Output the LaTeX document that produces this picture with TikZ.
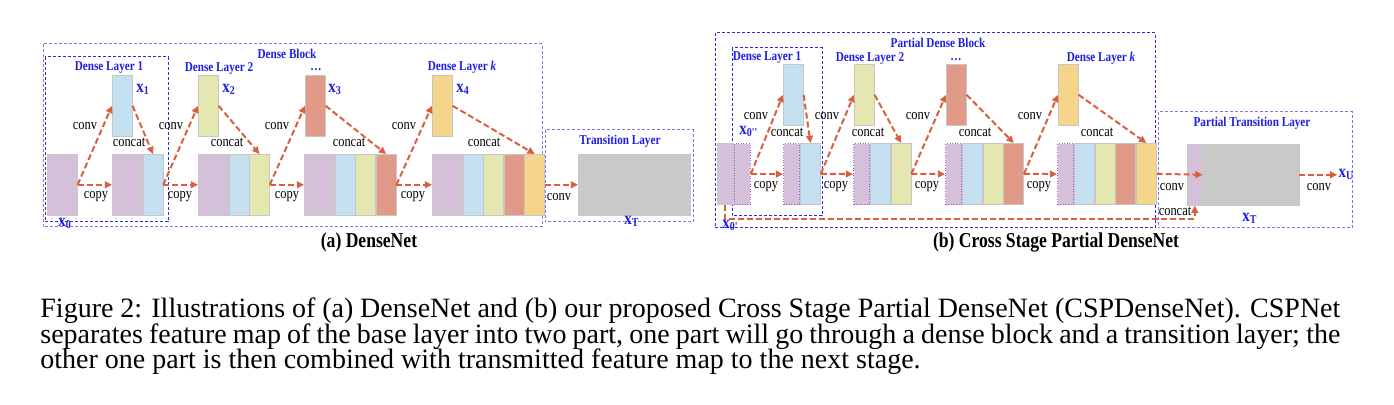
\documentclass[tikz,border=0pt]{standalone}
\usepackage{fontspec}
\setmainfont{Liberation Serif}
\newfontfamily\diagfont{Liberation Serif}[FakeStretch=0.83]
\usetikzlibrary{arrows.meta,positioning,calc}

\definecolor{cpurple}{HTML}{D4C0D8}
\definecolor{cblue}{HTML}{C4DFF0}
\definecolor{cgreen}{HTML}{E4E7B0}
\definecolor{cred}{HTML}{E29A88}
\definecolor{cyellow}{HTML}{F5D58A}
\definecolor{cgray}{HTML}{C9C9C9}
\definecolor{carrow}{HTML}{D9603F}
\definecolor{clabel}{HTML}{1E1EE6}
\definecolor{cboxd}{HTML}{2A2AE0}
\definecolor{cboxl}{HTML}{7A7AE0}
\definecolor{cdot}{HTML}{9A5CC8}

\tikzset{
  cell/.style={draw=black!22, line width=0.3pt, inner sep=0pt, anchor=north west,
    minimum height=30.5pt, minimum width=10pt},
  wide/.style={minimum width=15pt},
  half/.style={minimum width=8pt},
  part/.style={draw=cdot, densely dotted, line width=0.6pt},
  flow/.style={draw=carrow, line width=1pt, dash pattern=on 3pt off 1.5pt,
    -{Triangle[length=3.6pt,width=3.4pt]}},
  grp/.style={line width=0.5pt, dash pattern=on 1.5pt off 1pt},
  lbl/.style={font=\diagfont\fontsize{7.5}{8}\selectfont, inner sep=0pt},
  ttl/.style={font=\diagfont\bfseries\fontsize{6.75}{7.5}\selectfont, text=clabel, inner sep=0pt},
  dots/.style={ttl, text height=1.5pt, text depth=0pt},
  xlbl/.style={font=\diagfont\bfseries\fontsize{9}{10}\selectfont, text=clabel, inner sep=0pt, anchor=west},
  sub/.style={font=\diagfont\bfseries\fontsize{10.6}{12}\selectfont, inner sep=0pt},
  captxt/.style={font=\fontsize{14}{15}\selectfont, inner sep=0pt, anchor=base west},
}

\begin{document}
\begin{tikzpicture}[x=0.5pt,y=-0.5pt]
  \useasboundingbox (0,0) rectangle (1394,405);

  % ---------------- (a) DenseNet ----------------
  % groups
  \draw[grp, draw=cboxl] (43,44) rectangle (542,227);
  \draw[grp, draw=cboxd] (45,57) rectangle (168,222);
  \draw[grp, draw=cboxl] (545,130) rectangle (693,222);

  % base feature map
  \node[cell, wide, fill=cpurple] (a0) at (47,154) {};

  % layer 1
  \node[cell, fill=cblue] (ax1) at (112,75) {};
  \node[cell, wide, fill=cpurple] (a1p) at (112,154) {};
  \node[cell, fill=cblue] (a1b) at (a1p.north east) {};

  % layer 2
  \node[cell, fill=cgreen] (ax2) at (198,75) {};
  \node[cell, wide, fill=cpurple] (a2p) at (198,154) {};
  \node[cell, fill=cblue] (a2b) at (a2p.north east) {};
  \node[cell, fill=cgreen] (a2g) at (a2b.north east) {};

  % layer 3
  \node[cell, fill=cred] (ax3) at (305,75) {};
  \node[cell, wide, fill=cpurple] (a3p) at (304,154) {};
  \node[cell, fill=cblue] (a3b) at (a3p.north east) {};
  \node[cell, fill=cgreen] (a3g) at (a3b.north east) {};
  \node[cell, fill=cred] (a3r) at (a3g.north east) {};

  % layer k
  \node[cell, fill=cyellow] (ax4) at (432,75) {};
  \node[cell, wide, fill=cpurple] (a4p) at (432,154) {};
  \node[cell, fill=cblue] (a4b) at (a4p.north east) {};
  \node[cell, fill=cgreen] (a4g) at (a4b.north east) {};
  \node[cell, fill=cred] (a4r) at (a4g.north east) {};
  \node[cell, fill=cyellow] (a4y) at (a4r.north east) {};

  % transition
  \node[cell, fill=cgray, minimum width=56pt] (aT) at (578,154) {};

  % connectors
  \draw[flow] (a0.east) -- (a1p.west);
  \draw[flow] (a0.east) -- (ax1.west);
  \draw[flow] (ax1.east) -- (a1b.north);
  \draw[flow] (a1b.east) -- (a2p.west);
  \draw[flow] (a1b.east) -- (ax2.west);
  \draw[flow] (ax2.east) -- (a2g.north);
  \draw[flow] (a2g.east) -- (a3p.west);
  \draw[flow] (a2g.east) -- (ax3.west);
  \draw[flow] (ax3.east) -- (a3r.north);
  \draw[flow] (a3r.east) -- (a4p.west);
  \draw[flow] (a3r.east) -- (ax4.west);
  \draw[flow] (ax4.east) -- (a4y.north);
  \draw[flow] (a4y.east) -- (aT.west);

  % texts
  \node[ttl] at (287,54) {Dense Block};
  \node[ttl] at (109,68) {Dense Layer 1};
  \node[ttl] at (219,68) {Dense Layer 2};
  \node[dots] at (316,69) {\dots};
  \node[ttl] at (462,67) {Dense Layer \textit{k}};
  \node[ttl] at (620,141) {Transition Layer};

  \node[xlbl] at (136,89) {x\textsubscript{1}};
  \node[xlbl] at (222,89) {x\textsubscript{2}};
  \node[xlbl] at (328,89) {x\textsubscript{3}};
  \node[xlbl] at (456,89) {x\textsubscript{4}};
  \node[xlbl] at (58,223) {x\textsubscript{0}};
  \node[xlbl] at (624,221) {x\textsubscript{T}};

  \foreach \cx/\cv/\cc/\cp in {85/126/129/96, 171/126/227/180, 277/126/349/287, 404/126/484/413}{
    \node[lbl] at (\cx,\cv) {conv};
    \node[lbl] at (\cc,142) {concat};
    \node[lbl] at (\cp,197) {copy};
  }
  \node[lbl] at (559,197) {conv};

  \node[sub] at (369,242) {(a) DenseNet};

  % ---------------- (b) CSPDenseNet ----------------
  % groups
  \draw[grp, draw=cboxd] (715,33) rectangle (1155,228);
  \draw[grp, draw=cboxd] (732,48) rectangle (822,216);
  \draw[grp, draw=cboxl] (1158,112) rectangle (1352,228);

  % base feature map, split in two parts
  \node[cell, half, fill=cpurple] (b0a) at (717,143) {};
  \node[cell, half, fill=cpurple, part] (b0b) at (b0a.north east) {};

  % layer 1
  \node[cell, fill=cblue] (bx1) at (783,64) {};
  \node[cell, half, fill=cpurple, part] (b1p) at (783,143) {};
  \node[cell, fill=cblue] (b1b) at (b1p.north east) {};

  % layer 2
  \node[cell, fill=cgreen] (bx2) at (854,64) {};
  \node[cell, half, fill=cpurple, part] (b2p) at (853,143) {};
  \node[cell, fill=cblue] (b2b) at (b2p.north east) {};
  \node[cell, fill=cgreen] (b2g) at (b2b.north east) {};

  % layer 3
  \node[cell, fill=cred] (bx3) at (946,64) {};
  \node[cell, half, fill=cpurple, part] (b3p) at (945,143) {};
  \node[cell, fill=cblue] (b3b) at (b3p.north east) {};
  \node[cell, fill=cgreen] (b3g) at (b3b.north east) {};
  \node[cell, fill=cred] (b3r) at (b3g.north east) {};

  % layer k
  \node[cell, fill=cyellow] (bx4) at (1058,64) {};
  \node[cell, half, fill=cpurple, part] (b4p) at (1057,143) {};
  \node[cell, fill=cblue] (b4b) at (b4p.north east) {};
  \node[cell, fill=cgreen] (b4g) at (b4b.north east) {};
  \node[cell, fill=cred] (b4r) at (b4g.north east) {};
  \node[cell, fill=cyellow] (b4y) at (b4r.north east) {};

  % partial transition
  \node[cell, fill=cpurple, minimum width=7.5pt] (bTp) at (1187,144) {};
  \node[cell, fill=cgray, minimum width=48pt] (bTg) at (bTp.north east) {};
  \coordinate (bU) at ($(bTg.east)+(38,0)$);

  % connectors
  \draw[flow] (b0b.east) -- (b1p.west);
  \draw[flow] (b0b.east) -- (bx1.west);
  \draw[flow] (bx1.east) -- (b1b.north);
  \draw[flow] (b1b.east) -- (b2p.west);
  \draw[flow] (b1b.east) -- (bx2.west);
  \draw[flow] (bx2.east) -- (b2g.north);
  \draw[flow] (b2g.east) -- (b3p.west);
  \draw[flow] (b2g.east) -- (bx3.west);
  \draw[flow] (bx3.east) -- (b3r.north);
  \draw[flow] (b3r.east) -- (b4p.west);
  \draw[flow] (b3r.east) -- (bx4.west);
  \draw[flow] (bx4.east) -- (b4y.north);
  \draw[flow] (b4y.east) -- (bTg.west);
  \draw[flow] (bTg.east) -- (bU);
  \draw[flow] (b0a.south) -- ++(0,14) -| (bTp.south);

  % texts
  \node[ttl] at (938,43) {Partial Dense Block};
  \node[ttl] at (767,58) {Dense Layer 1};
  \node[ttl] at (870,58) {Dense Layer 2};
  \node[dots] at (956,59) {\dots};
  \node[ttl] at (1101,58) {Dense Layer \textit{k}};
  \node[ttl] at (1252,123) {Partial Transition Layer};

  \node[xlbl] at (739,131) {x\textsubscript{0''}};
  \node[xlbl] at (722,225) {x\textsubscript{0'}};
  \node[xlbl] at (1242,218) {x\textsubscript{T}};
  \node[xlbl, right=0.5pt of bU] {x\textsubscript{U}};

  \foreach \cx/\cc/\cp in {756/787/766, 827/868/836, 918/975/927, 1030/1097/1039}{
    \node[lbl] at (\cx,116) {conv};
    \node[lbl] at (\cc,132) {concat};
    \node[lbl] at (\cp,187) {copy};
  }
  \node[lbl] at (1172,187) {conv};
  \node[lbl] at (1319,187) {conv};
  \node[lbl] at (1175,211) {concat};

  \node[sub] at (1056,242) {(b) Cross Stage Partial DenseNet};

  % ---------------- caption ----------------
  \node[captxt] (cap1) at (40,318) {\makebox[650pt][s]{Figure 2: Illustrations of (a) DenseNet and (b) our proposed Cross Stage Partial DenseNet (CSPDenseNet). CSPNet}};
  \node[captxt] (cap2) at (40,344) {\makebox[650pt][s]{separates feature map of the base layer into two part, one part will go through a dense block and a transition layer; the}};
  \node[captxt] (cap3) at (40,369) {other one part is then combined with transmitted feature map to the next stage.};
\end{tikzpicture}
\end{document}
